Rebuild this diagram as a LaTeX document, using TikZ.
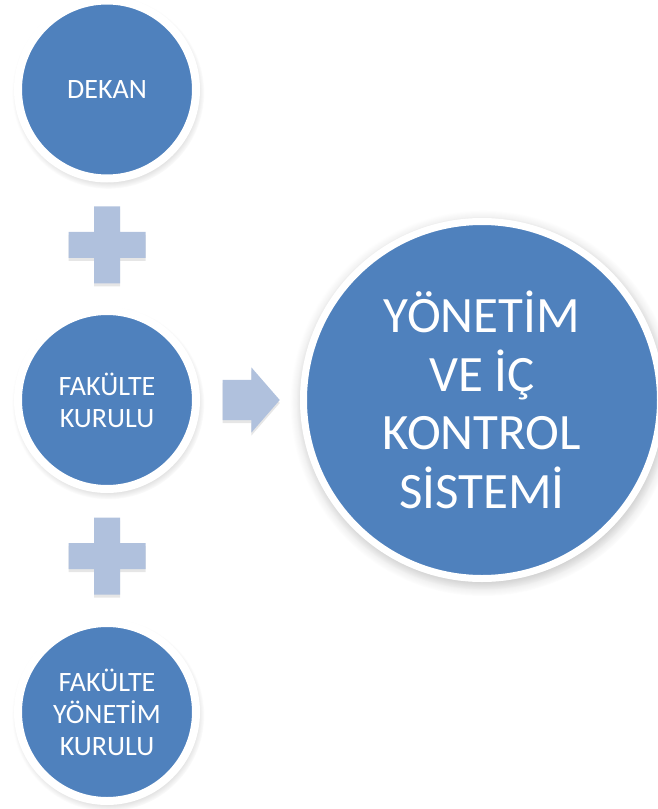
\documentclass[tikz,border=0pt]{standalone}
\usepackage{fontspec}
\setmainfont{Carlito}
\usetikzlibrary{shapes.arrows,shadows,calc}
\definecolor{mavi}{HTML}{4F81BD}
\definecolor{acikmavi}{HTML}{B0C1DD}
\tikzset{
  daire/.style={circle,fill=mavi,draw=white,line width=8pt,text=white,
    align=center,inner sep=0pt,minimum size=178pt,
    font=\fontsize{28}{32}\selectfont,
    circular drop shadow={shadow xshift=1pt,shadow yshift=-3pt,
      shadow scale=1.08,opacity=.45}},
  buyukdaire/.style={daire,line width=7pt,minimum size=357pt,
    font=\fontsize{51}{58.5}\selectfont,
    circular drop shadow={shadow xshift=1pt,shadow yshift=-3pt,
      shadow scale=1.045,opacity=.45}},
  arti/.style={fill=acikmavi,
    drop shadow={shadow xshift=0pt,shadow yshift=-3pt,opacity=.2}},
  blokok/.style={single arrow,fill=acikmavi,inner xsep=0pt,inner ysep=20pt,
    minimum height=57pt,
    single arrow head extend=12.5pt,single arrow tip angle=98,
    drop shadow={shadow xshift=0pt,shadow yshift=-3pt,opacity=.2}}
}
\begin{document}
\begin{tikzpicture}[x=1pt,y=1pt]
      \useasboundingbox (0,0) rectangle (657,-809);
      \node[daire] (dekan) at (107,-89.5) {DEKAN};
      \node[daire] (kurul) at (107,-400) {FAKÜLTE\\KURULU};
      \node[daire] (ykurul) at (107,-712) {FAKÜLTE\\YÖNETİM\\KURULU};
      \node[buyukdaire] (sistem) at (482,-400) {YÖNETİM\\VE İÇ\\KONTROL\\SİSTEMİ};
      \coordinate (arti1) at ($(dekan)!0.5!(kurul)$);
      \coordinate (arti2) at ($(kurul)!0.5!(ykurul)$);
      \fill[arti,shift={(arti1)}]
        (-13,38.5) -- (13,38.5) -- (13,13) -- (38.5,13) -- (38.5,-13)
        -- (13,-13) -- (13,-38.5) -- (-13,-38.5) -- (-13,-13)
        -- (-38.5,-13) -- (-38.5,13) -- (-13,13) -- cycle;
      \fill[arti,shift={(arti2)}]
        (-13,38.5) -- (13,38.5) -- (13,13) -- (38.5,13) -- (38.5,-13)
        -- (13,-13) -- (13,-38.5) -- (-13,-38.5) -- (-13,-13)
        -- (-38.5,-13) -- (-38.5,13) -- (-13,13) -- cycle;
      \node[blokok,anchor=tip] (ok) at ($(sistem.west)+(-20,0)$) {};
    \end{tikzpicture}
\end{document}
